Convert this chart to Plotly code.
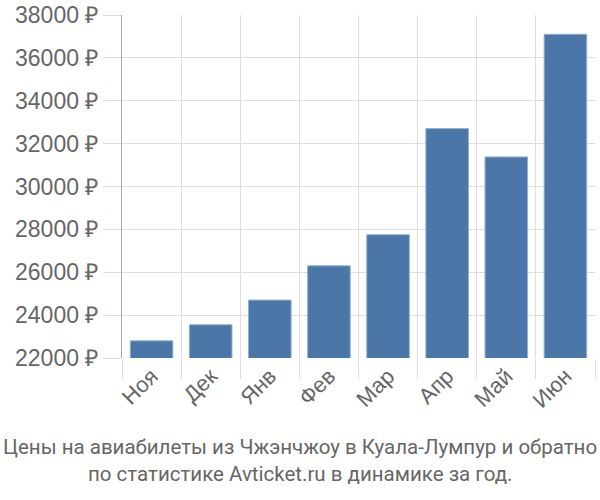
import plotly.graph_objects as go

months = ["Ноя", "Дек", "Янв", "Фев", "Мар", "Апр", "Май", "Июн"]
prices = [22800, 23550, 24700, 26300, 27750, 32700, 31380, 37100]
ytick_vals = [22000, 24000, 26000, 28000, 30000, 32000, 34000, 36000, 38000]
ytick_text = [f"{v} ₽" for v in ytick_vals]
title_lines = ["Цены на авиабилеты из Чжэнчжоу в Куала-Лумпур и обратно",
               "по статистике Avticket.ru в динамике за год."]

fig = go.Figure(go.Bar(
    x=months, y=prices,
    marker=dict(color="#4a76a8", line=dict(color="#8fb0d4", width=1)),
))

fig.update_layout(
    width=600, height=500,
    margin=dict(l=122, r=5, t=15, b=142, autoexpand=False),
    plot_bgcolor="white", paper_bgcolor="white",
    bargap=0.28,
    showlegend=False,
    font=dict(family="Liberation Sans, Arial, sans-serif", color="#666"),
)
fig.update_xaxes(
    type="category",
    range=[-0.5, len(months) - 0.5],
    automargin=False,
    tickson="boundaries",
    ticks="outside", ticklen=20, tickcolor="#ddd", tickwidth=1,
    showgrid=True, gridcolor="#ddd", gridwidth=1,
    tickangle=-45,
    tickfont=dict(size=22, color="#666"),
    showline=False,
)
fig.update_yaxes(
    range=[22000, 38000],
    automargin=False,
    ticklabeloverflow="allow",
    tickvals=ytick_vals, ticktext=ytick_text,
    ticks="outside", ticklen=18, tickcolor="#ddd", tickwidth=1,
    showgrid=True, gridcolor="#ddd", gridwidth=1,
    zeroline=False,
    showline=True, linecolor="#aaa", linewidth=1,
    tickfont=dict(size=23, color="#666"),
)
for i, line in enumerate(title_lines):
    fig.add_annotation(
        text=line, xref="paper", yref="paper",
        x=(300 - 122) / 473, y=(358 - (447 + 27 * i)) / 343,
        xanchor="center", yanchor="middle", showarrow=False,
        font=dict(family="Roboto, Liberation Sans, sans-serif", size=20.5, color="#666"),
    )

fig.write_html("out.html", config={"displayModeBar": False},
               post_script="document.body.style.margin='0';")
